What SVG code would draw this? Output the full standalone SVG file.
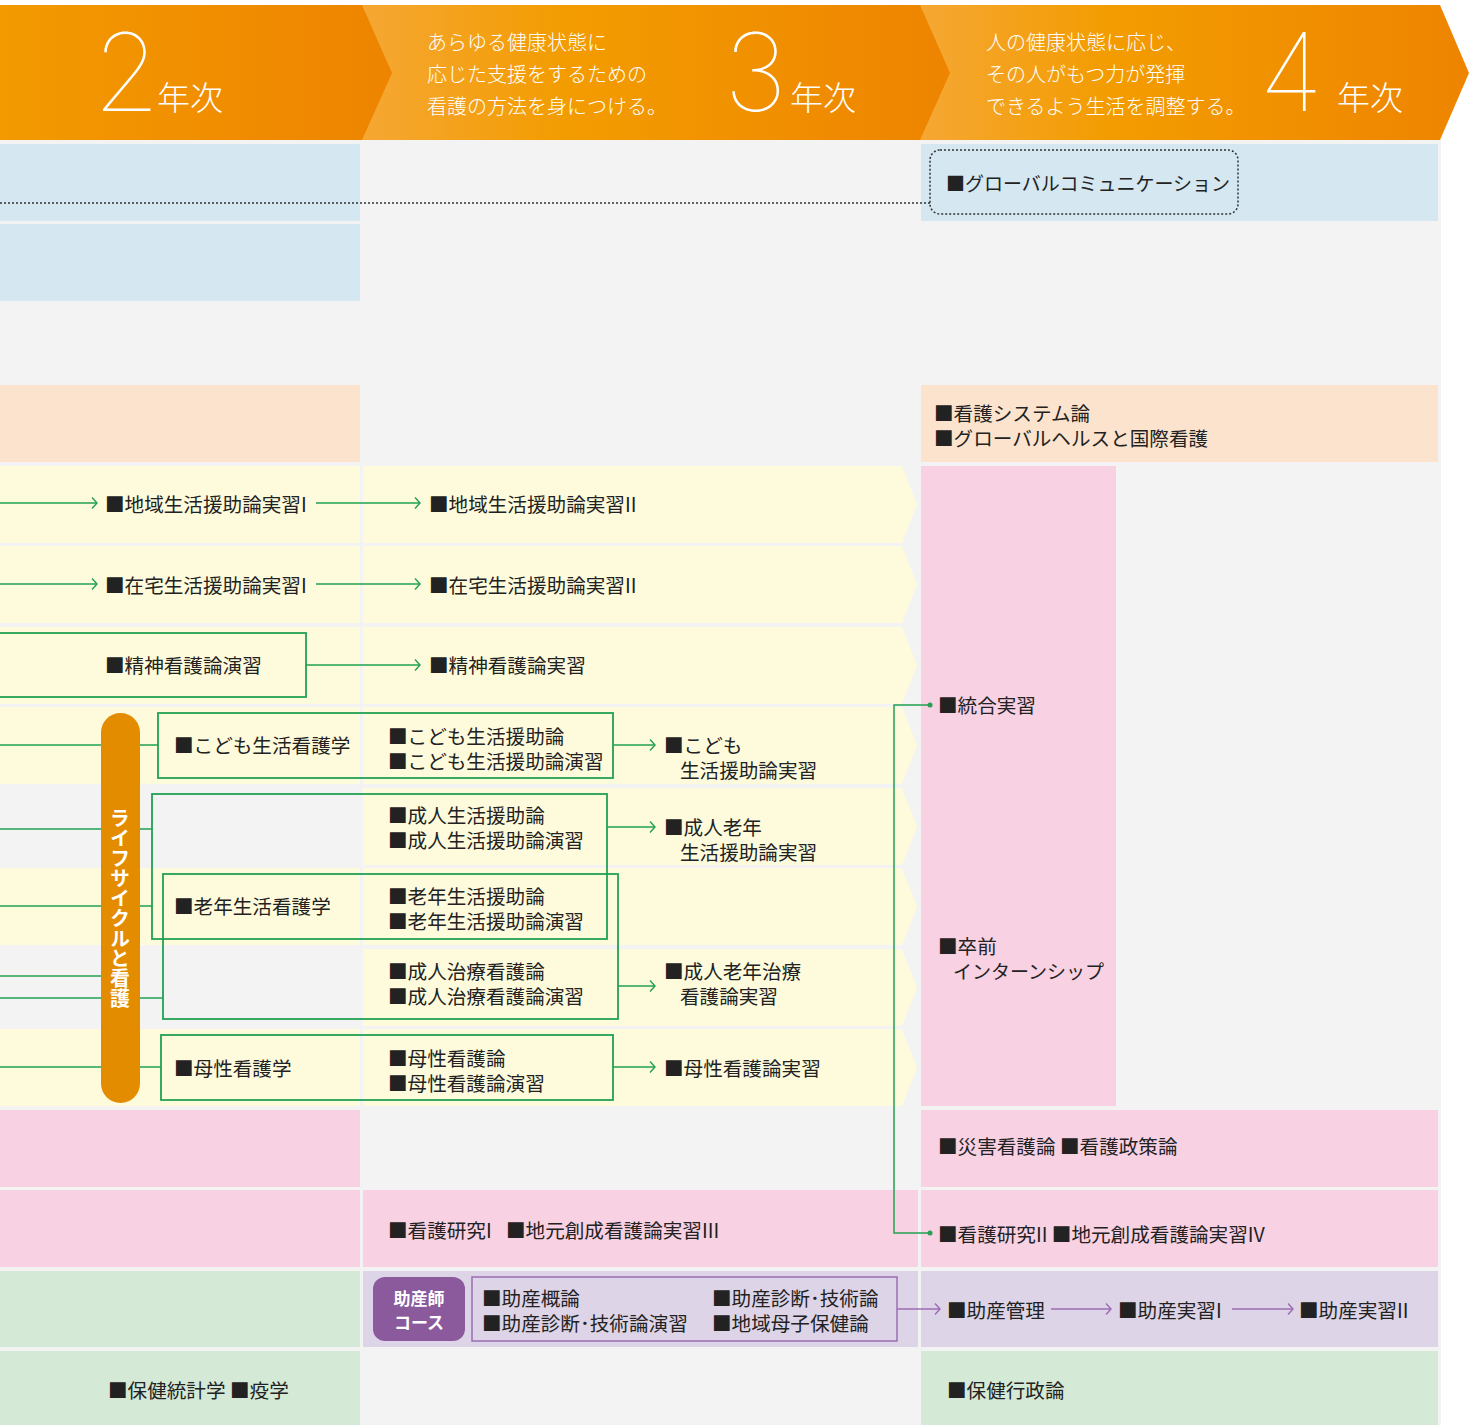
<svg xmlns="http://www.w3.org/2000/svg" width="1469" height="1425" viewBox="0 0 1469 1425">
<defs>
<linearGradient id="h1" x1="0" y1="0" x2="1" y2="0"><stop offset="0" stop-color="#f39a00"/><stop offset="1" stop-color="#ee8400"/></linearGradient>
<linearGradient id="h2" x1="0" y1="0" x2="1" y2="0"><stop offset="0" stop-color="#f5a733"/><stop offset="0.35" stop-color="#f39c00"/><stop offset="1" stop-color="#ee8400"/></linearGradient>
<marker id="ag" viewBox="-7 -7 8 14" refX="0" refY="0" markerWidth="8" markerHeight="14" markerUnits="userSpaceOnUse" orient="auto"><path d="M-5,-5.5 L0,0 L-5,5.5" fill="none" stroke="#22a152" stroke-width="1.4"/></marker>
<marker id="ap" viewBox="-7 -7 8 14" refX="0" refY="0" markerWidth="8" markerHeight="14" markerUnits="userSpaceOnUse" orient="auto"><path d="M-5,-5.5 L0,0 L-5,5.5" fill="none" stroke="#9a6cb2" stroke-width="1.4"/></marker>
<style>
text{font-family:"Noto Sans CJK JP","Noto Sans",sans-serif;}
.t{font-size:19.6px;fill:#222;dominant-baseline:central;}
.hd{font-size:20px;fill:#fff;font-weight:300;}
.yr{font-size:33px;fill:#fff;font-weight:300;}
.num{font-family:Inter,"Noto Sans",sans-serif;font-size:108px;fill:#fff;font-weight:100;}
.blue{fill:#d5e7f1}.peach{fill:#fce3cd}.yel{fill:#fefbdc}.pink{fill:#f8d1e3}.grn{fill:#d5e9d7}.pur{fill:#ddd4e7}
.gl{fill:none;stroke:#22a152;stroke-width:1.5}
.gb{fill:none;stroke:#22a152;stroke-width:1.8}
.pl{fill:none;stroke:#9a6cb2;stroke-width:1.5}
</style>
</defs>
<rect x="0" y="0" width="1469" height="1425" fill="#ffffff"/>
<rect x="0" y="140" width="1441" height="1285" fill="#f3f3f3"/>

<g id="header">
<polygon points="920,5 1440,5 1469,73 1440,140 920,140" fill="url(#h2)"/>
<polygon points="362,5 920,5 950,73 920,140 362,140" fill="url(#h2)"/>
<polygon points="0,5 362,5 392,73 362,140 0,140" fill="url(#h1)"/>
<text class="num" x="93" y="111">2</text>
<text class="yr" x="157" y="110">年次</text>
<text class="hd" x="427" y="50">あらゆる健康状態に</text>
<text class="hd" x="427" y="82">応じた支援をするための</text>
<text class="hd" x="427" y="114">看護の方法を身につける。</text>
<text class="num" x="724" y="111">3</text>
<text class="yr" x="790" y="110">年次</text>
<text class="hd" x="986" y="50">人の健康状態に応じ、</text>
<text class="hd" x="986" y="82">その人がもつ力が発揮</text>
<text class="hd" x="986" y="114">できるよう生活を調整する。</text>
<text class="num" x="1259" y="111">4</text>
<text class="yr" x="1337" y="110">年次</text>
</g>

<g id="rows">
<rect class="blue" x="0" y="144" width="360" height="77"/>
<rect class="blue" x="0" y="224" width="360" height="77"/>
<rect class="peach" x="0" y="385" width="360" height="77"/>
<rect class="yel" x="0" y="466" width="360" height="77"/>
<rect class="yel" x="0" y="546" width="360" height="77"/>
<rect class="yel" x="0" y="627" width="360" height="77"/>
<rect class="yel" x="0" y="707" width="360" height="77"/>
<rect class="yel" x="0" y="868" width="360" height="77"/>
<rect class="yel" x="0" y="1029" width="360" height="77"/>
<rect class="pink" x="0" y="1110" width="360" height="77"/>
<rect class="pink" x="0" y="1190" width="360" height="77"/>
<rect class="grn" x="0" y="1271" width="360" height="76"/>
<rect class="grn" x="0" y="1351" width="360" height="74"/>
<polygon class="yel" points="363,466 902,466 917,504.5 902,543 363,543"/>
<polygon class="yel" points="363,546 902,546 917,584.5 902,623 363,623"/>
<polygon class="yel" points="363,627 902,627 917,665.5 902,704 363,704"/>
<polygon class="yel" points="363,707 902,707 917,745.5 902,784 363,784"/>
<polygon class="yel" points="363,788 902,788 917,826.5 902,865 363,865"/>
<polygon class="yel" points="363,868 902,868 917,906.5 902,945 363,945"/>
<polygon class="yel" points="363,949 902,949 917,987.5 902,1026 363,1026"/>
<polygon class="yel" points="363,1029 902,1029 917,1067.5 902,1106 363,1106"/>
<rect class="pink" x="363" y="1190" width="555" height="77"/>
<rect class="pur" x="363" y="1271" width="555" height="76"/>
<rect class="blue" x="921" y="144" width="517" height="77"/>
<rect class="peach" x="921" y="385" width="517" height="77"/>
<rect class="pink" x="921" y="466" width="195" height="640"/>
<rect class="pink" x="921" y="1110" width="517" height="77"/>
<rect class="pink" x="921" y="1190" width="517" height="77"/>
<rect class="pur" x="921" y="1271" width="517" height="76"/>
<rect class="grn" x="921" y="1351" width="517" height="74"/>
</g>

<g id="connectors">
<line x1="0" y1="203" x2="930" y2="203" stroke="#333" stroke-width="1.5" stroke-dasharray="2 2"/>
<line class="gl" x1="0" y1="503" x2="97" y2="503" marker-end="url(#ag)"/>
<line class="gl" x1="316" y1="503" x2="420" y2="503" marker-end="url(#ag)"/>
<line class="gl" x1="0" y1="584" x2="97" y2="584" marker-end="url(#ag)"/>
<line class="gl" x1="316" y1="584" x2="420" y2="584" marker-end="url(#ag)"/>
<line class="gl" x1="306" y1="665" x2="420" y2="665" marker-end="url(#ag)"/>
<line class="gl" x1="0" y1="745" x2="158" y2="745"/>
<line class="gl" x1="0" y1="829" x2="152" y2="829"/>
<line class="gl" x1="0" y1="906" x2="152" y2="906"/>
<line class="gl" x1="0" y1="976" x2="101" y2="976"/>
<line class="gl" x1="0" y1="998" x2="163" y2="998"/>
<line class="gl" x1="0" y1="1067" x2="161" y2="1067"/>
<line class="gl" x1="613" y1="745" x2="655" y2="745" marker-end="url(#ag)"/>
<line class="gl" x1="607" y1="827" x2="655" y2="827" marker-end="url(#ag)"/>
<line class="gl" x1="618" y1="986" x2="655" y2="986" marker-end="url(#ag)"/>
<line class="gl" x1="613" y1="1067" x2="655" y2="1067" marker-end="url(#ag)"/>
<polyline class="gl" points="930,705 894,705 894,1233 930,1233"/>
<circle cx="930" cy="705" r="2.5" fill="#22a152"/>
<circle cx="930" cy="1233" r="2.5" fill="#22a152"/>
<line class="pl" x1="897" y1="1309" x2="940" y2="1309" marker-end="url(#ap)"/>
<line class="pl" x1="1051" y1="1309" x2="1111" y2="1309" marker-end="url(#ap)"/>
<line class="pl" x1="1232" y1="1309" x2="1293" y2="1309" marker-end="url(#ap)"/>
</g>

<g id="global-comm">
<rect x="930" y="150" width="308" height="64" rx="10" fill="none" stroke="#333" stroke-width="1.5" stroke-dasharray="2 2"/>
<text class="t" x="946" y="182" style="font-size:19px">■グローバルコミュニケーション</text>
</g>
<g id="system"><text class="t" x="934" y="412">■看護システム論</text><text class="t" x="934" y="437">■グローバルヘルスと国際看護</text></g>

<g id="chiiki1"><text class="t" x="105" y="503">■地域生活援助論実習I</text></g>
<g id="chiiki2"><text class="t" x="429" y="503">■地域生活援助論実習II</text></g>
<g id="zaitaku1"><text class="t" x="105" y="584">■在宅生活援助論実習I</text></g>
<g id="zaitaku2"><text class="t" x="429" y="584">■在宅生活援助論実習II</text></g>
<g id="seishin1"><rect class="gb" x="-2" y="633" width="308" height="64"/><text class="t" x="105" y="664">■精神看護論演習</text></g>
<g id="seishin2"><text class="t" x="429" y="664">■精神看護論実習</text></g>

<g id="lifecycle">
<rect x="101" y="713" width="39" height="390" rx="19.5" fill="#e48c00"/>
<text x="120" y="908" writing-mode="vertical-rl" text-anchor="middle" style="font-size:20px;font-weight:700;fill:#fff">ライフサイクルと看護</text>
</g>

<g id="kodomo">
<rect class="gb" x="158" y="713" width="455" height="65"/>
<text class="t" x="174" y="744">■こども生活看護学</text>
<text class="t" x="388" y="735">■こども生活援助論</text>
<text class="t" x="388" y="760">■こども生活援助論演習</text>
</g>
<g id="seijin">
<rect class="gb" x="152" y="794" width="455" height="145"/>
<text class="t" x="388" y="814">■成人生活援助論</text>
<text class="t" x="388" y="839">■成人生活援助論演習</text>
</g>
<g id="ronen">
<rect class="gb" x="163" y="874" width="455" height="145"/>
<text class="t" x="174" y="905">■老年生活看護学</text>
<text class="t" x="388" y="895">■老年生活援助論</text>
<text class="t" x="388" y="920">■老年生活援助論演習</text>
<text class="t" x="388" y="970">■成人治療看護論</text>
<text class="t" x="388" y="995">■成人治療看護論演習</text>
</g>
<g id="bosei">
<rect class="gb" x="161" y="1035" width="452" height="65"/>
<text class="t" x="174" y="1067">■母性看護学</text>
<text class="t" x="388" y="1057">■母性看護論</text>
<text class="t" x="388" y="1082">■母性看護論演習</text>
</g>
<g id="kodomo-jisshu"><text class="t" x="664" y="744">■こども</text><text class="t" x="680" y="769">生活援助論実習</text></g>
<g id="seijin-jisshu"><text class="t" x="664" y="826">■成人老年</text><text class="t" x="680" y="851">生活援助論実習</text></g>
<g id="chiryo-jisshu"><text class="t" x="664" y="970">■成人老年治療</text><text class="t" x="680" y="995">看護論実習</text></g>
<g id="bosei-jisshu"><text class="t" x="664" y="1067">■母性看護論実習</text></g>

<g id="togo"><text class="t" x="938" y="704">■統合実習</text></g>
<g id="intern"><text class="t" x="938" y="945">■卒前</text><text class="t" x="953" y="970" style="font-size:19px">インターンシップ</text></g>
<g id="saigai"><text class="t" x="938" y="1145">■災害看護論 ■看護政策論</text></g>
<g id="kenkyu1"><text class="t" x="388" y="1229">■看護研究I <tspan x="506">■地元創成看護論実習III</tspan></text></g>
<g id="kenkyu2"><text class="t" x="938" y="1233">■看護研究II ■地元創成看護論実習IV</text></g>

<g id="josan-course">
<rect x="373" y="1277" width="92" height="64" rx="12" fill="#8a5a9d"/>
<text x="419" y="1297" text-anchor="middle" dominant-baseline="central" style="font-size:17px;font-weight:700;fill:#fff">助産師</text>
<text x="419" y="1321" text-anchor="middle" dominant-baseline="central" style="font-size:17px;font-weight:700;fill:#fff">コース</text>
</g>
<g id="josan-box">
<rect x="472" y="1277" width="425" height="64" fill="none" stroke="#9a6cb2" stroke-width="1.5"/>
<text class="t" x="482" y="1297">■助産概論</text>
<text class="t" x="482" y="1322">■助産診断･技術論演習</text>
<text class="t" x="712" y="1297">■助産診断･技術論</text>
<text class="t" x="712" y="1322">■地域母子保健論</text>
</g>
<g id="josan-kanri"><text class="t" x="947" y="1309">■助産管理</text></g>
<g id="josan-jisshu1"><text class="t" x="1118" y="1309">■助産実習I</text></g>
<g id="josan-jisshu2"><text class="t" x="1299" y="1309">■助産実習II</text></g>
<g id="hoken1"><text class="t" x="108" y="1389">■保健統計学 ■疫学</text></g>
<g id="hoken2"><text class="t" x="947" y="1389">■保健行政論</text></g>
</svg>
